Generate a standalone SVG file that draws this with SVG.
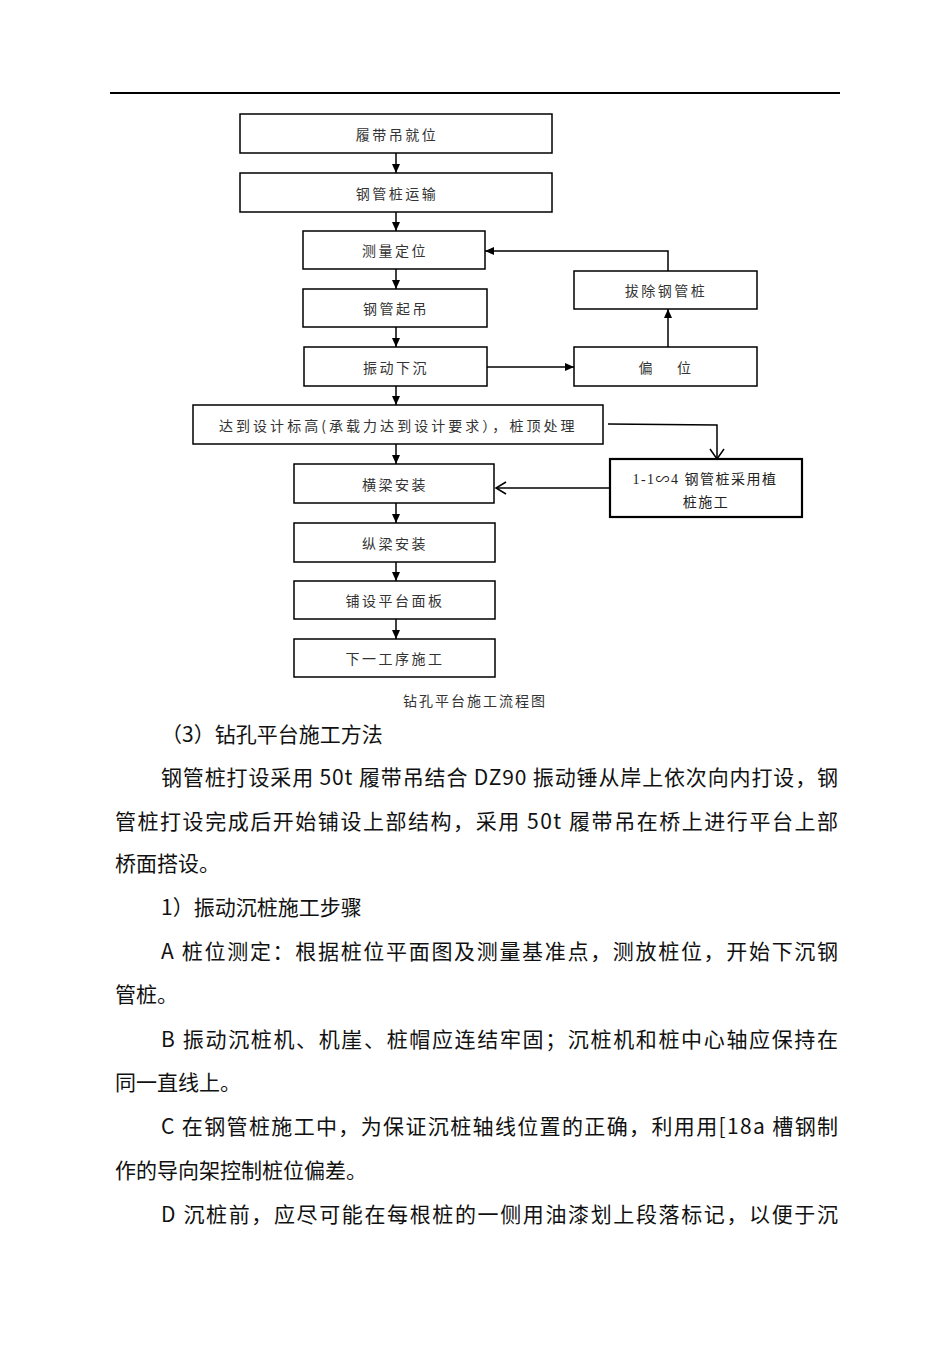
<svg xmlns="http://www.w3.org/2000/svg" width="950" height="1346" viewBox="0 0 950 1346">
<style>
.box{fill:#fff;stroke:#000;stroke-width:1.5}
.thick{stroke-width:2.2}
.bt{font-family:"Noto Sans CJK SC","Noto Sans",sans-serif;font-size:14px;fill:#333;text-anchor:middle;dominant-baseline:central;letter-spacing:2.5px}
.st{font-family:"Liberation Serif","Noto Sans CJK SC",serif;font-size:14px;fill:#222;text-anchor:middle;dominant-baseline:central;letter-spacing:1.5px}
.ln{fill:none;stroke:#000;stroke-width:1.5}
.body{font-family:"Noto Sans CJK SC","Noto Sans",sans-serif;font-size:21px;fill:#111;dominant-baseline:central}
.cap{font-family:"Noto Sans CJK SC","Noto Sans",sans-serif;font-size:14px;fill:#333;text-anchor:middle;dominant-baseline:central;letter-spacing:2px}
</style>
<defs>
<marker id="ah" markerWidth="10" markerHeight="10" refX="9" refY="5" orient="auto" markerUnits="userSpaceOnUse">
<path d="M0,1 L9,5 L0,9 Z" fill="#000"/>
</marker>
</defs>
<rect width="950" height="1346" fill="#fff"/>
<line x1="110" y1="93" x2="840" y2="93" stroke="#000" stroke-width="2"/>

<g id="n1"><rect class="box" x="240" y="114" width="312" height="39"/><text class="bt" x="397" y="133.5">履带吊就位</text></g>
<g id="n2"><rect class="box" x="240" y="173" width="312" height="39"/><text class="bt" x="397" y="192.5">钢管桩运输</text></g>
<g id="n3"><rect class="box" x="303" y="231" width="182" height="38"/><text class="bt" x="395" y="250">测量定位</text></g>
<g id="n4"><rect class="box" x="303" y="289" width="184" height="38"/><text class="bt" x="396" y="308">钢管起吊</text></g>
<g id="n5"><rect class="box" x="304" y="347" width="183" height="39"/><text class="bt" x="396" y="366.5">振动下沉</text></g>
<g id="n6"><rect class="box" x="193" y="405" width="410" height="39"/><text class="bt" x="398" y="424.5" textLength="358" lengthAdjust="spacing">达到设计标高(承载力达到设计要求），桩顶处理</text></g>
<g id="n7"><rect class="box" x="294" y="464" width="200" height="39"/><text class="bt" x="395" y="483.5">横梁安装</text></g>
<g id="n8"><rect class="box" x="294" y="523" width="201" height="39"/><text class="bt" x="395" y="542.5">纵梁安装</text></g>
<g id="n9"><rect class="box" x="294" y="581" width="201" height="38"/><text class="bt" x="395" y="600">铺设平台面板</text></g>
<g id="n10"><rect class="box" x="294" y="639" width="201" height="38"/><text class="bt" x="395" y="658">下一工序施工</text></g>
<g id="n11"><rect class="box" x="574" y="271" width="183" height="38"/><text class="bt" x="666" y="290">拔除钢管桩</text></g>
<g id="n12"><rect class="box" x="574" y="347" width="183" height="39"/><text class="bt" x="666" y="366.5" letter-spacing="0"><tspan>偏</tspan><tspan dx="22">位</tspan></text></g>
<g id="n13"><rect class="box thick" x="610" y="459" width="192" height="58"/><text class="st" x="705" y="479">1-1∽4 钢管桩采用植</text><text class="st" x="706" y="502">桩施工</text></g>

<g id="connectors">
<line class="ln" x1="396" y1="153" x2="396" y2="173" marker-end="url(#ah)"/>
<line class="ln" x1="396" y1="212" x2="396" y2="231" marker-end="url(#ah)"/>
<line class="ln" x1="396" y1="269" x2="396" y2="289" marker-end="url(#ah)"/>
<line class="ln" x1="396" y1="327" x2="396" y2="347" marker-end="url(#ah)"/>
<line class="ln" x1="396" y1="386" x2="396" y2="405" marker-end="url(#ah)"/>
<line class="ln" x1="396" y1="444" x2="396" y2="464" marker-end="url(#ah)"/>
<line class="ln" x1="396" y1="503" x2="396" y2="523" marker-end="url(#ah)"/>
<line class="ln" x1="396" y1="562" x2="396" y2="581" marker-end="url(#ah)"/>
<line class="ln" x1="396" y1="619" x2="396" y2="639" marker-end="url(#ah)"/>
<line class="ln" x1="487" y1="367" x2="574" y2="367" marker-end="url(#ah)"/>
<line class="ln" x1="668" y1="347" x2="668" y2="309" marker-end="url(#ah)"/>
<polyline class="ln" points="668,271 668,251 485,251" marker-end="url(#ah)"/>
<polyline class="ln" points="608,424 717,425 717,458"/>
<polyline class="ln" points="710,449 717,459 724,449"/>
<line class="ln" x1="610" y1="488" x2="496" y2="488"/>
<polyline class="ln" points="506,482 496,488 506,494"/>
</g>

<text class="cap" x="475" y="700">钻孔平台施工流程图</text>

<text class="body" x="161" y="733">（3）钻孔平台施工方法</text>
<text class="body" x="161" y="776" textLength="677" lengthAdjust="spacing">钢管桩打设采用 50t 履带吊结合 DZ90 振动锤从岸上依次向内打设，钢</text>
<text class="body" x="115" y="820" textLength="723" lengthAdjust="spacing">管桩打设完成后开始铺设上部结构，采用 50t 履带吊在桥上进行平台上部</text>
<text class="body" x="115" y="862">桥面搭设。</text>
<text class="body" x="161" y="906">1）振动沉桩施工步骤</text>
<text class="body" x="161" y="950" textLength="677" lengthAdjust="spacing">A 桩位测定：根据桩位平面图及测量基准点，测放桩位，开始下沉钢</text>
<text class="body" x="115" y="993">管桩。</text>
<text class="body" x="161" y="1038" textLength="677" lengthAdjust="spacing">B 振动沉桩机、机崖、桩帽应连结牢固；沉桩机和桩中心轴应保持在</text>
<text class="body" x="115" y="1081">同一直线上。</text>
<text class="body" x="161" y="1125" textLength="677" lengthAdjust="spacing">C 在钢管桩施工中，为保证沉桩轴线位置的正确，利用用[18a 槽钢制</text>
<text class="body" x="115" y="1169">作的导向架控制桩位偏差。</text>
<text class="body" x="161" y="1213" textLength="677" lengthAdjust="spacing">D 沉桩前，应尽可能在每根桩的一侧用油漆划上段落标记，以便于沉</text>
</svg>
